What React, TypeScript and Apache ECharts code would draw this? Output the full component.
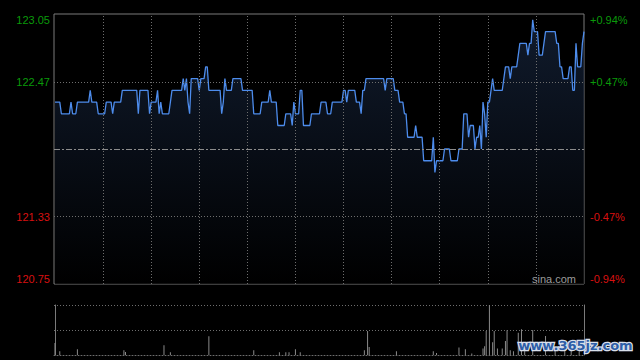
import React, { useEffect, useRef } from "react";
import * as echarts from "echarts";

// ---- data ----
const prevClose = 121.9;
const priceMin = 120.75;
const priceMax = 123.05;
const priceStep = 0.575;
const leftTickLabels = ["120.75", "121.33", "", "122.47", "123.05"];
const rightTickLabels = ["-0.94%", "-0.47%", "", "+0.47%", "+0.94%"];
const dottedLevels = [121.325, 122.475];
const gridMinutes = [30, 60, 90, 120, 150, 180, 210, 240, 270, 300];
const lastMinute = 330;

// price runs: price holds from runStarts[i] until the next start
const runStarts = [
  0, 4, 10, 11, 14, 22, 23, 27, 32, 36, 37, 42, 52, 53, 59, 60, 64, 65, 66, 67,
  72, 73, 80, 81, 82, 83, 84, 85, 90, 91, 94, 96, 104, 105, 106, 107, 111, 117,
  124, 129, 134, 135, 139, 144, 148, 149, 150, 153, 155, 160, 166, 170, 173,
  180, 182, 183, 188, 191, 192, 194, 206, 207, 212, 215, 218, 220, 225, 226,
  230, 236, 237, 238, 243, 247, 252, 255, 258, 259, 262, 263, 265, 266, 267,
  268, 269, 270, 272, 273, 274, 280, 281, 284, 285, 289, 290, 295, 296, 298,
  299, 302, 305, 306, 313, 315, 317, 321, 323, 325, 326, 329, 330,
];
const runPrices = [
  122.3, 122.2, 122.3, 122.2, 122.3, 122.4, 122.3, 122.2, 122.3, 122.2, 122.3,
  122.4, 122.2, 122.4, 122.2, 122.3, 122.4, 122.2, 122.3, 122.2,
  122.3, 122.4, 122.5, 122.4, 122.5, 122.3, 122.2, 122.5, 122.4, 122.5, 122.6,
  122.4, 122.2, 122.3, 122.5, 122.4, 122.5, 122.4,
  122.2, 122.3, 122.4, 122.3, 122.1, 122.2, 122.1, 122.3, 122.2, 122.4, 122.1,
  122.2, 122.3, 122.2, 122.3,
  122.4, 122.3, 122.4, 122.3, 122.2, 122.4, 122.5, 122.4, 122.5, 122.4, 122.3,
  122.2, 122.0, 122.1, 122.0,
  121.8, 122.0, 121.7, 121.8, 121.9, 121.8, 121.9, 122.2, 122.0, 122.1, 121.9,
  122.0, 122.1, 121.9, 122.3,
  122.2, 122.0, 122.3, 122.4, 122.5, 122.4, 122.5, 122.6, 122.5, 122.6, 122.7,
  122.8, 122.7, 122.8, 123.0,
  122.9, 122.7, 122.8, 122.9, 122.8, 122.6, 122.5, 122.6, 122.4, 122.8, 122.6,
  122.8, 122.9,
];

const volMinutes = [
  0, 3, 14, 43, 44, 68, 72, 96, 124, 140, 144, 146, 150, 153, 193, 195, 196, 213,
  236, 238, 252, 256, 260, 267, 268, 269, 271, 273, 274, 276, 279, 281, 282, 284,
  286, 289, 291, 293, 298, 306, 312, 318, 322, 327,
];
const volValues = [
  12, 3.7, 5.7, 4.7, 3, 9.7, 2.7, 18.7, 4.7, 2.7, 2.7, 2.7, 5.7, 2.7, 4.7, 24, 8,
  3.7, 3.7, 2, 7.4, 5.7, 1.5, 6.4, 8.7, 24, 50, 12.7, 24, 6.4, 6.4, 14, 24.7, 4.7,
  3.7, 22.3, 25.7, 10, 25, 19, 8, 6, 10, 7,
];

export default function App() {
  const ref = useRef<HTMLDivElement>(null);

  useEffect(() => {
    if (!ref.current) return;
    const chart = echarts.init(ref.current, undefined, { renderer: "svg" });

    const priceData: number[][] = [];
    for (let i = 0; i < runStarts.length; i++) {
      const end = i < runStarts.length - 1 ? runStarts[i + 1] - 1 : runStarts[i];
      for (let m = runStarts[i]; m <= end; m++) priceData.push([m, runPrices[i]]);
    }
    const volData = volMinutes.map((m, i) => [m, volValues[i]]);
    const volMax = Math.max(...volValues);

    const dotted = { color: "#6e6e6e", type: [1, 2] as any, width: 1 };
    const tickIndex = (v: any) => Math.round((Number(v) - priceMin) / priceStep);
    const labelColor = (v: any) =>
      Number(v) > prevClose + 0.01 ? "#0a9a0a" : Number(v) < prevClose - 0.01 ? "#d81010" : "#aaa";

    const markData: any[] = [
      ...gridMinutes.map((m) => ({ xAxis: m, lineStyle: dotted })),
      ...dottedLevels.map((v) => ({ yAxis: v, lineStyle: dotted })),
      { yAxis: prevClose, lineStyle: { color: "#8c8c8c", type: [6, 2, 2, 2], width: 1 } },
    ];

    chart.setOption({
      animation: false,
      backgroundColor: "#000",
      grid: [
        { left: 54, top: 14, width: 530, height: 270, show: true, borderColor: "#7a7a7a", borderWidth: 1, backgroundColor: "#000" },
        { left: 54, top: 305, width: 530, height: 50, show: false },
      ],
      xAxis: [
        { type: "value", gridIndex: 0, min: -0.6, max: lastMinute, axisLine: { show: false }, axisTick: { show: false }, axisLabel: { show: false }, splitLine: { show: false } },
        { type: "value", gridIndex: 1, min: -0.6, max: lastMinute, axisLine: { show: true, lineStyle: { color: "#6e6e6e", type: [1, 2] } }, axisTick: { show: false }, axisLabel: { show: false }, splitLine: { show: false } },
      ],
      yAxis: [
        {
          type: "value", gridIndex: 0, position: "left", min: priceMin, max: priceMax, interval: priceStep,
          axisLine: { show: false }, axisTick: { show: false }, splitLine: { show: false },
          axisLabel: {
            margin: 4, fontSize: 11, fontFamily: "Liberation Sans, Arial, sans-serif",
            formatter: (v: any) => leftTickLabels[tickIndex(v)] ?? "",
            color: labelColor,
            verticalAlignMaxLabel: "top", verticalAlignMinLabel: "bottom",
          },
        },
        {
          type: "value", gridIndex: 0, position: "right", min: priceMin, max: priceMax, interval: priceStep,
          axisLine: { show: false }, axisTick: { show: false }, splitLine: { show: false },
          axisLabel: {
            margin: 6, fontSize: 11, fontFamily: "Liberation Sans, Arial, sans-serif",
            formatter: (v: any) => rightTickLabels[tickIndex(v)] ?? "",
            color: labelColor,
            verticalAlignMaxLabel: "top", verticalAlignMinLabel: "bottom",
          },
        },
        {
          type: "value", gridIndex: 1, position: "left", min: 0, max: volMax, interval: volMax / 2,
          axisLine: { show: true, lineStyle: { color: "#7a7a7a" } }, axisTick: { show: false }, axisLabel: { show: false },
          splitLine: { show: true, lineStyle: dotted },
        },
        {
          type: "value", gridIndex: 1, position: "right", min: 0, max: volMax,
          axisLine: { show: true, lineStyle: { color: "#7a7a7a" } }, axisTick: { show: false }, axisLabel: { show: false },
          splitLine: { show: false },
        },
      ],
      series: [
        {
          type: "line", xAxisIndex: 0, yAxisIndex: 0, data: priceData, showSymbol: false, symbol: "none",
          lineStyle: { color: "#4d8cec", width: 1.3 },
          areaStyle: {
            color: new echarts.graphic.LinearGradient(0, 0, 0, 1, [
              { offset: 0, color: "#17263f" },
              { offset: 1, color: "#000000" },
            ]),
          },
          markLine: { silent: true, symbol: ["none", "none"], label: { show: false }, data: markData, animation: false },
          z: 3,
        },
        {
          type: "bar", xAxisIndex: 1, yAxisIndex: 2, data: volData, barWidth: 1,
          itemStyle: { color: "#8a8a8a" },
        },
      ],
      graphic: [
        { type: "text", left: 532, top: 273, style: { text: "sina.com", fill: "#9c9c9c", font: "11px Liberation Sans, Arial, sans-serif" }, z: 10 },
        {
          type: "text", left: 517, top: 338,
          style: {
            text: "www.365jz.com", fill: "#2e5ea8", stroke: "#d8dfea", lineWidth: 2.5,
            font: "bold 13px DejaVu Sans, sans-serif",
          },
          z: 20,
        },
      ],
    });

    return () => chart.dispose();
  }, []);

  return (
    <div
      ref={ref}
      style={{ position: "fixed", left: 0, top: 0, width: 640, height: 360, background: "#000" }}
    />
  );
}
